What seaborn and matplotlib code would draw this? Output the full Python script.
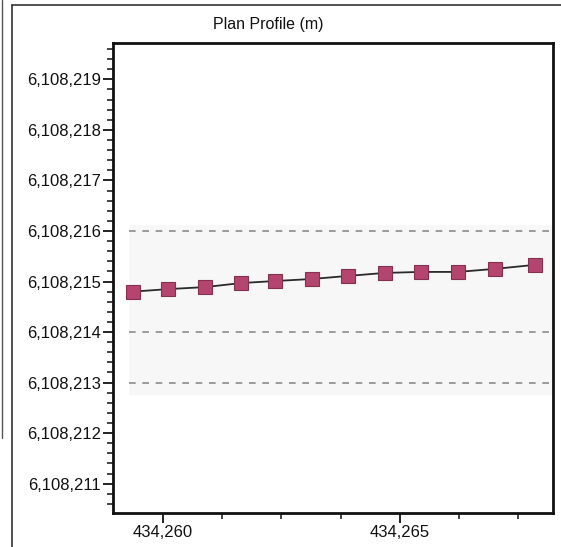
import matplotlib
matplotlib.use("Agg")
import matplotlib.pyplot as plt
from matplotlib.ticker import MultipleLocator, FuncFormatter
from matplotlib.lines import Line2D
import seaborn as sns
import pandas as pd

# Plan-view stations (easting / northing, metres)
easting = [434259.36, 434260.11, 434260.89, 434261.65, 434262.37, 434263.14,
           434263.90, 434264.68, 434265.44, 434266.23, 434267.01, 434267.86]
northing = [6108214.80, 6108214.85, 6108214.89, 6108214.97, 6108215.01, 6108215.05,
            6108215.11, 6108215.17, 6108215.19, 6108215.19, 6108215.25, 6108215.33]
reference_levels = [6108216, 6108214, 6108213]
band_limits = [6108212.75, 6108216.12]
title = "Plan Profile (m)"

sns.set_theme(style="white")
plt.rcParams["font.family"] = ["Liberation Sans", "DejaVu Sans"]

df = pd.DataFrame({"Easting": easting, "Northing": northing})

fig = plt.figure(figsize=(5.61, 5.47), dpi=100)
ax = fig.add_axes([0.2014, 0.0622, 0.7843, 0.8592])

x_lo, x_hi = 434258.94, 434268.24
y_lo, y_hi = 6108210.42, 6108219.72
band_start = 434259.27

# faint band behind the profile
ax.fill_between([band_start, x_hi], band_limits[0], band_limits[1],
                color="#f7f7f8", lw=0, zorder=0)
# dashed reference levels
ax.hlines(reference_levels, band_start, x_hi, colors="#8c8c8c",
          linestyles=(0, (4, 4)), linewidth=1.2, zorder=1)

sns.lineplot(data=df, x="Easting", y="Northing", ax=ax, color="#2a2a2a",
             linewidth=1.3, marker="s", markersize=10,
             markerfacecolor="#b4456f", markeredgecolor="#84304f",
             markeredgewidth=0.8, sort=False, zorder=3)

ax.set_xlim(x_lo, x_hi)
ax.set_ylim(y_lo, y_hi)
ax.set_xlabel("")
ax.set_ylabel("")

ax.xaxis.set_major_locator(MultipleLocator(5))
ax.xaxis.set_minor_locator(MultipleLocator(1.25))
ax.yaxis.set_major_locator(MultipleLocator(1))
ax.yaxis.set_minor_locator(MultipleLocator(0.2))
fmt = FuncFormatter(lambda v, p: f"{v:,.0f}")
ax.xaxis.set_major_formatter(fmt)
ax.yaxis.set_major_formatter(fmt)

ax.tick_params(axis="both", which="major", direction="out", length=7, width=1.3,
               colors="#111111", labelsize=12, bottom=True, left=True, pad=1.5)
ax.tick_params(axis="both", which="minor", direction="out", length=4, width=1.1,
               colors="#111111", bottom=True, left=True)
for s in ax.spines.values():
    s.set_visible(True)
    s.set_color("#111111")
    s.set_linewidth(2.0)
ax.grid(False)

fig.text(0.478, 0.956, title, ha="center", va="center", fontsize=11.5, color="#111111")

# outer panel frame
fig.add_artist(Line2D([12 / 561, 12 / 561], [0, 1 - 5 / 547], transform=fig.transFigure,
                      color="#333333", lw=1.2))
fig.add_artist(Line2D([12 / 561, 1], [1 - 5 / 547, 1 - 5 / 547], transform=fig.transFigure,
                      color="#333333", lw=1.2))
fig.add_artist(Line2D([2 / 561, 2 / 561], [0.2, 1], transform=fig.transFigure,
                      color="#555555", lw=1.0))

fig.savefig("out.png", dpi=100)
